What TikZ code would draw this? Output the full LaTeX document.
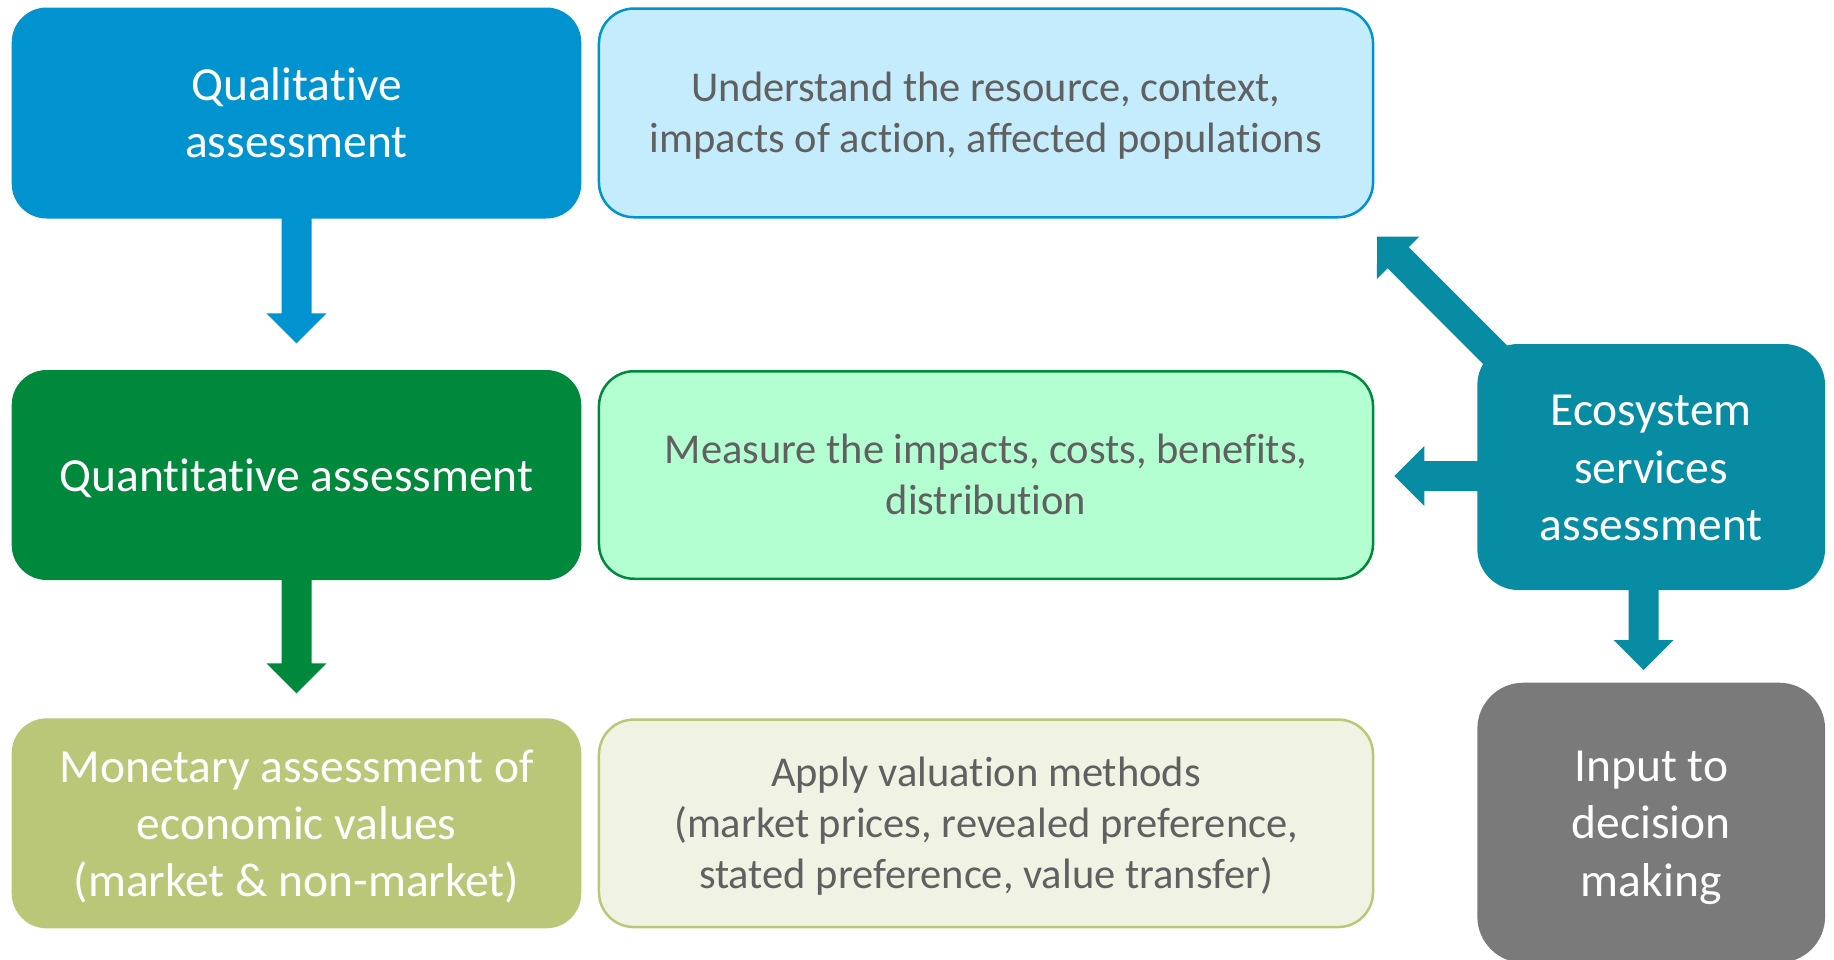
\documentclass[tikz,border=0pt]{standalone}
\usepackage{fontspec}
\setmainfont{Carlito}[RawFeature={-liga}]
\usetikzlibrary{calc}
\definecolor{qblue}{RGB}{0,147,208}
\definecolor{qbluelt}{RGB}{197,236,252}
\definecolor{qgreen}{RGB}{0,137,61}
\definecolor{qgreenlt}{RGB}{179,255,210}
\definecolor{molive}{RGB}{187,199,120}
\definecolor{molivelt}{RGB}{240,242,228}
\definecolor{eteal}{RGB}{8,140,163}
\definecolor{dgray}{RGB}{122,122,122}
\definecolor{txtgray}{RGB}{96,96,96}
% struts that fix the height of the first line and the depth of the last line
\newcommand\tstrut{\rule{0pt}{0.98em}}
\newcommand\bstrut{\rule[-0.30em]{0pt}{0pt}}
\tikzset{
  darkbox/.style={rounded corners=35pt, inner sep=0pt, align=center, text=white,
    font=\fontsize{47.5}{57.3}\selectfont},
  lightbox/.style={rounded corners=35pt, inner sep=0pt, align=center, text=txtgray,
    line width=2.5pt, font=\fontsize{42.5}{51}\selectfont},
}
% block arrow: colour, start coordinate, tip coordinate
\newcommand\blockarrow[3]{%
  \coordinate (hb) at ($(#3)!30pt!(#2)$);
  \fill[#1] ($(#2)!15pt!90:(#3)$) -- ($(hb)!15pt!-90:(#2)$) -- ($(hb)!30pt!-90:(#2)$)
    -- (#3) -- ($(hb)!30pt!90:(#2)$) -- ($(hb)!15pt!90:(#2)$) -- ($(#2)!15pt!-90:(#3)$) -- cycle;
}
\begin{document}
\begin{tikzpicture}[x=1pt,y=-1pt]
\useasboundingbox (0,0) rectangle (1834,959);
\fill[white] (0,0) rectangle (1834,959);
\clip (0,0) rectangle (1834,959);

% left column
\node[darkbox, fill=qblue, minimum width=569.6pt, minimum height=211pt] (qual) at (296.5,113)
  {\tstrut Qualitative\\assessment\bstrut};
\node[darkbox, fill=qgreen, minimum width=569.6pt, minimum height=210pt] (quant) at (296.5,475)
  {\tstrut Quantitative assessment\bstrut};
\node[darkbox, fill=molive, minimum width=569.6pt, minimum height=210pt] (mon) at (296.5,823.3)
  {\tstrut Monetary assessment of\\economic values\\(market \& non-market)\bstrut};

% middle column
\node[lightbox, draw=qblue, fill=qbluelt, minimum width=774.1pt, minimum height=208.7pt] (und) at (986,112.9)
  {\tstrut Understand the resource, context,\\impacts of action, affected populations\bstrut};
\node[lightbox, draw=qgreen, fill=qgreenlt, minimum width=774.1pt, minimum height=207.5pt] (meas) at (986,475)
  {\tstrut Measure the impacts, costs, benefits,\\distribution\bstrut};
\node[lightbox, draw=molive, fill=molivelt, minimum width=774.1pt, minimum height=207.5pt] (apply) at (986,823.3)
  {\tstrut Apply valuation methods\\(market prices, revealed preference,\\stated preference, value transfer)\bstrut};

% right column
\node[darkbox, rounded corners=41pt, fill=eteal, minimum width=347.7pt, minimum height=246pt] (eco) at (1651.2,467)
  {\tstrut Ecosystem\\services\\assessment\bstrut};
\node[darkbox, rounded corners=46pt, fill=dgray, minimum width=347.7pt, minimum height=280pt] (inp) at (1651.2,822.7)
  {\tstrut Input to\\decision\\making\bstrut};

% arrows
\coordinate (s1) at ($(qual.south)+(0,-2)$);
\coordinate (t1) at (296.5,343.3);
\blockarrow{qblue}{s1}{t1}
\coordinate (s2) at ($(quant.south)+(0,-2)$);
\coordinate (t2) at (296.5,693.3);
\blockarrow{qgreen}{s2}{t2}
\coordinate (s3) at ($(eco.west)+(5,9)$);
\coordinate (t3) at (1394.3,476);
\blockarrow{eteal}{s3}{t3}
\coordinate (s4) at ($(eco.south)+(-7.7,-5)$);
\coordinate (t4) at (1643.5,670);
\blockarrow{eteal}{s4}{t4}
\coordinate (s5) at ($(eco.north west)+(26,19)$);
\coordinate (t5) at (1377,236.5);
\blockarrow{eteal}{s5}{t5}
\end{tikzpicture}
\end{document}
